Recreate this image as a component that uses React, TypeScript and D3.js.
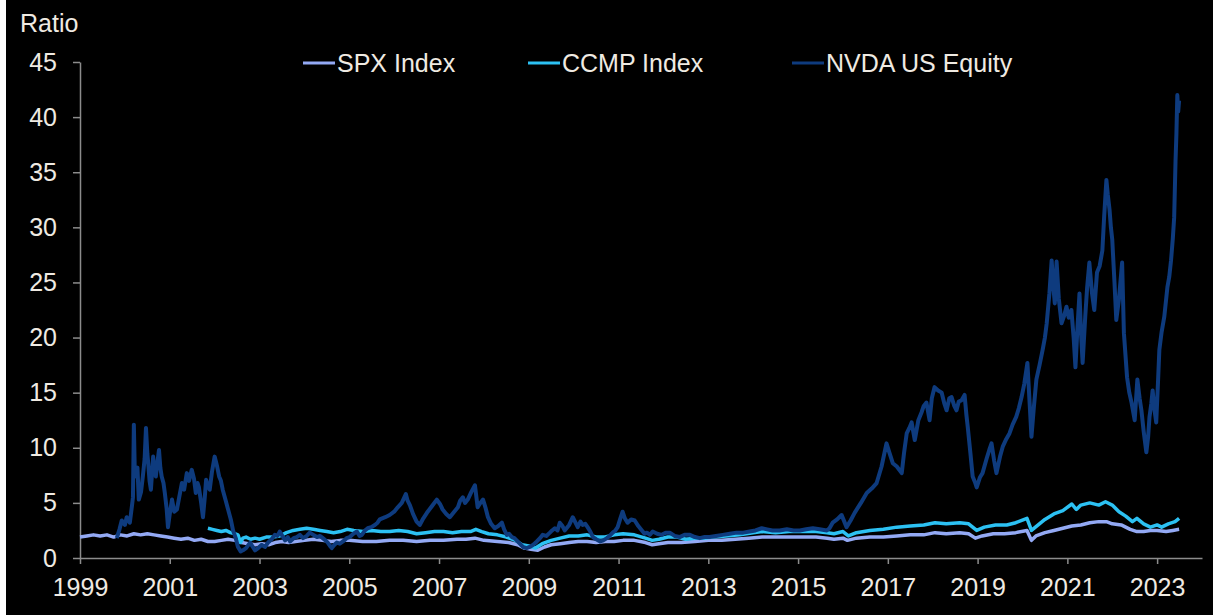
import { useEffect, useRef } from "react";
import * as d3 from "d3";

// [year, ratio]
const spxData: [number, number][] = [
  [1999.0, 1.9], [1999.15, 2.0], [1999.3, 2.1], [1999.45, 2.0], [1999.6, 2.1], [1999.75, 1.9], [1999.9, 2.1],
  [2000.05, 2.0], [2000.2, 2.2], [2000.35, 2.1], [2000.5, 2.2], [2000.65, 2.1], [2000.8, 2.0], [2000.95, 1.9],
  [2001.1, 1.8], [2001.25, 1.7], [2001.4, 1.8], [2001.55, 1.6], [2001.7, 1.7], [2001.85, 1.5], [2002.0, 1.5],
  [2002.15, 1.6], [2002.3, 1.7], [2002.45, 1.6], [2002.6, 1.4], [2002.75, 1.3], [2002.9, 1.2], [2003.05, 1.3],
  [2003.2, 1.2], [2003.35, 1.4], [2003.5, 1.5], [2003.65, 1.4], [2003.8, 1.5], [2004.0, 1.6], [2004.2, 1.7],
  [2004.4, 1.6], [2004.6, 1.5], [2004.8, 1.6], [2005.0, 1.6], [2005.3, 1.5], [2005.6, 1.5], [2005.9, 1.6],
  [2006.2, 1.6], [2006.5, 1.5], [2006.8, 1.6], [2007.1, 1.6], [2007.4, 1.7], [2007.6, 1.7], [2007.8, 1.8],
  [2008.0, 1.6], [2008.3, 1.5], [2008.55, 1.4], [2008.75, 1.2], [2008.9, 0.9], [2009.05, 0.8], [2009.2, 0.7],
  [2009.35, 1.0], [2009.5, 1.2], [2009.7, 1.3], [2009.9, 1.4], [2010.1, 1.5], [2010.3, 1.5], [2010.5, 1.4],
  [2010.7, 1.5], [2010.9, 1.5], [2011.1, 1.6], [2011.35, 1.6], [2011.6, 1.4], [2011.75, 1.2], [2011.9, 1.3],
  [2012.1, 1.4], [2012.4, 1.4], [2012.7, 1.5], [2013.0, 1.6], [2013.3, 1.6], [2013.6, 1.7], [2013.9, 1.8],
  [2014.2, 1.9], [2014.5, 1.9], [2014.8, 1.9], [2015.1, 1.9], [2015.4, 1.9], [2015.65, 1.8], [2015.8, 1.7],
  [2016.0, 1.8], [2016.1, 1.6], [2016.3, 1.8], [2016.6, 1.9], [2016.9, 1.9], [2017.2, 2.0], [2017.5, 2.1],
  [2017.8, 2.1], [2018.05, 2.3], [2018.3, 2.2], [2018.6, 2.3], [2018.8, 2.2], [2018.95, 1.8], [2019.1, 2.0],
  [2019.35, 2.2], [2019.6, 2.2], [2019.85, 2.3], [2020.1, 2.5], [2020.2, 1.6], [2020.3, 2.0], [2020.5, 2.3],
  [2020.7, 2.5], [2020.9, 2.7], [2021.1, 2.9], [2021.3, 3.0], [2021.5, 3.2], [2021.7, 3.3], [2021.87, 3.3],
  [2022.0, 3.1], [2022.2, 3.0], [2022.4, 2.6], [2022.55, 2.4], [2022.7, 2.4], [2022.85, 2.5], [2023.0, 2.5],
  [2023.2, 2.4], [2023.35, 2.5], [2023.49, 2.6],
];

const ccmpData: [number, number][] = [
  [2001.85, 2.7], [2001.95, 2.6], [2002.05, 2.5], [2002.15, 2.4], [2002.25, 2.5], [2002.35, 2.3], [2002.45, 2.2],
  [2002.52, 2.1], [2002.58, 1.4], [2002.63, 1.8], [2002.7, 1.9], [2002.8, 1.7], [2002.9, 1.8], [2003.0, 1.7],
  [2003.15, 1.9], [2003.3, 1.9], [2003.45, 2.0], [2003.6, 2.3], [2003.75, 2.5], [2003.9, 2.6], [2004.05, 2.7],
  [2004.2, 2.6], [2004.35, 2.5], [2004.5, 2.4], [2004.65, 2.3], [2004.8, 2.4], [2004.95, 2.6], [2005.1, 2.5],
  [2005.3, 2.4], [2005.5, 2.5], [2005.7, 2.4], [2005.9, 2.4], [2006.1, 2.5], [2006.3, 2.4], [2006.5, 2.2],
  [2006.7, 2.3], [2006.9, 2.4], [2007.1, 2.4], [2007.3, 2.3], [2007.5, 2.4], [2007.7, 2.4], [2007.82, 2.6],
  [2007.95, 2.4], [2008.1, 2.2], [2008.3, 2.1], [2008.5, 1.9], [2008.7, 1.6], [2008.85, 1.2], [2009.0, 1.1],
  [2009.15, 0.9], [2009.3, 1.3], [2009.5, 1.6], [2009.7, 1.8], [2009.9, 2.0], [2010.1, 2.0], [2010.3, 2.1],
  [2010.5, 1.9], [2010.7, 1.9], [2010.9, 2.1], [2011.1, 2.2], [2011.35, 2.1], [2011.6, 1.8], [2011.75, 1.6],
  [2011.9, 1.7], [2012.1, 1.9], [2012.3, 1.9], [2012.5, 1.7], [2012.7, 1.8], [2012.9, 1.8], [2013.1, 1.9],
  [2013.4, 2.0], [2013.7, 2.1], [2014.0, 2.3], [2014.2, 2.4], [2014.5, 2.3], [2014.8, 2.4], [2015.1, 2.4],
  [2015.4, 2.4], [2015.65, 2.3], [2015.8, 2.2], [2016.0, 2.4], [2016.12, 2.0], [2016.3, 2.3], [2016.6, 2.5],
  [2016.9, 2.6], [2017.2, 2.8], [2017.5, 2.9], [2017.8, 3.0], [2018.05, 3.2], [2018.3, 3.1], [2018.6, 3.2],
  [2018.8, 3.1], [2018.98, 2.5], [2019.15, 2.8], [2019.4, 3.0], [2019.65, 3.0], [2019.85, 3.2], [2020.1, 3.6],
  [2020.2, 2.5], [2020.35, 3.0], [2020.5, 3.5], [2020.7, 4.0], [2020.9, 4.3], [2021.1, 4.9], [2021.2, 4.4],
  [2021.3, 4.8], [2021.5, 5.0], [2021.7, 4.8], [2021.85, 5.1], [2022.0, 4.8], [2022.15, 4.2], [2022.3, 3.8],
  [2022.45, 3.3], [2022.55, 3.6], [2022.7, 3.1], [2022.85, 2.8], [2023.0, 3.0], [2023.1, 2.8], [2023.25, 3.1],
  [2023.4, 3.3], [2023.49, 3.6],
];

const nvdaData: [number, number][] = [
  [1999.82, 1.8], [1999.88, 2.6], [1999.93, 3.4], [2000.0, 3.0], [2000.04, 3.7], [2000.11, 3.2], [2000.16, 4.8],
  [2000.18, 5.5], [2000.2, 12.1], [2000.22, 8.0], [2000.25, 7.4], [2000.28, 8.2], [2000.31, 5.3], [2000.36, 6.0],
  [2000.4, 7.4], [2000.44, 9.0], [2000.47, 11.8], [2000.5, 9.5], [2000.52, 8.6], [2000.55, 7.0], [2000.58, 6.2],
  [2000.61, 8.0], [2000.63, 9.2], [2000.66, 8.0], [2000.69, 7.4], [2000.72, 8.5], [2000.76, 9.8], [2000.79, 8.2],
  [2000.82, 7.4], [2000.86, 6.8], [2000.89, 5.9], [2000.93, 4.5], [2000.96, 2.8], [2001.0, 4.0], [2001.05, 5.3],
  [2001.1, 4.2], [2001.16, 4.4], [2001.21, 5.5], [2001.27, 6.8], [2001.32, 6.2], [2001.38, 7.7], [2001.43, 7.0],
  [2001.49, 8.0], [2001.54, 7.2], [2001.58, 5.9], [2001.62, 6.8], [2001.65, 6.4], [2001.7, 5.0], [2001.74, 3.7],
  [2001.78, 5.5], [2001.81, 7.1], [2001.85, 6.5], [2001.89, 6.2], [2001.94, 7.8], [2002.0, 9.2], [2002.05, 8.4],
  [2002.1, 7.4], [2002.14, 7.0], [2002.18, 6.2], [2002.24, 5.3], [2002.3, 4.4], [2002.36, 3.5], [2002.41, 2.5],
  [2002.47, 1.8], [2002.52, 1.0], [2002.58, 0.6], [2002.63, 0.7], [2002.7, 0.9], [2002.79, 1.4], [2002.85, 1.0],
  [2002.9, 0.7], [2002.97, 0.9], [2003.05, 1.2], [2003.12, 1.0], [2003.19, 1.4], [2003.27, 1.7], [2003.34, 2.1],
  [2003.4, 2.0], [2003.45, 2.4], [2003.51, 2.0], [2003.57, 1.6], [2003.63, 1.9], [2003.68, 1.5], [2003.76, 1.8],
  [2003.83, 1.9], [2003.9, 2.1], [2003.97, 1.8], [2004.05, 2.0], [2004.12, 2.3], [2004.2, 2.1], [2004.28, 1.9],
  [2004.35, 2.0], [2004.41, 1.8], [2004.47, 1.6], [2004.52, 1.4], [2004.57, 1.1], [2004.61, 0.9], [2004.67, 1.2],
  [2004.72, 1.4], [2004.79, 1.3], [2004.86, 1.5], [2004.94, 1.8], [2005.01, 1.9], [2005.09, 2.2], [2005.17, 2.4],
  [2005.23, 2.0], [2005.28, 2.1], [2005.35, 2.5], [2005.41, 2.7], [2005.49, 2.8], [2005.57, 3.0], [2005.63, 3.2],
  [2005.68, 3.5], [2005.8, 3.7], [2005.9, 3.9], [2006.0, 4.2], [2006.08, 4.6], [2006.17, 5.0], [2006.26, 5.8],
  [2006.3, 5.2], [2006.35, 4.8], [2006.42, 4.0], [2006.5, 3.3], [2006.57, 3.0], [2006.65, 3.6], [2006.73, 4.1],
  [2006.84, 4.7], [2006.95, 5.3], [2007.02, 4.9], [2007.08, 4.4], [2007.16, 4.0], [2007.24, 3.7], [2007.32, 4.1],
  [2007.42, 4.6], [2007.47, 5.2], [2007.53, 5.5], [2007.58, 5.0], [2007.64, 5.3], [2007.72, 6.0], [2007.8, 6.6],
  [2007.86, 4.6], [2007.92, 5.0], [2007.98, 5.3], [2008.04, 4.5], [2008.09, 3.7], [2008.16, 3.1], [2008.24, 2.7],
  [2008.32, 2.9], [2008.4, 3.2], [2008.45, 2.6], [2008.51, 2.1], [2008.56, 2.2], [2008.62, 1.9], [2008.68, 1.8],
  [2008.73, 1.6], [2008.8, 1.3], [2008.87, 1.0], [2008.95, 0.9], [2009.02, 1.0], [2009.1, 1.2], [2009.18, 1.5],
  [2009.25, 1.8], [2009.31, 2.1], [2009.39, 2.0], [2009.47, 2.3], [2009.52, 2.5], [2009.58, 2.7], [2009.64, 2.5],
  [2009.69, 3.2], [2009.75, 2.9], [2009.8, 2.5], [2009.9, 3.0], [2009.98, 3.7], [2010.04, 3.2], [2010.09, 2.8],
  [2010.15, 3.3], [2010.2, 3.0], [2010.26, 3.1], [2010.31, 2.8], [2010.37, 2.4], [2010.43, 1.9], [2010.5, 1.7],
  [2010.59, 1.5], [2010.66, 1.6], [2010.74, 1.8], [2010.8, 2.0], [2010.87, 2.3], [2010.93, 2.5], [2010.98, 2.8],
  [2011.04, 3.6], [2011.09, 4.2], [2011.14, 3.6], [2011.2, 3.2], [2011.28, 3.5], [2011.36, 3.4], [2011.44, 2.9],
  [2011.52, 2.5], [2011.58, 2.2], [2011.63, 2.3], [2011.7, 2.1], [2011.76, 2.4], [2011.86, 2.2], [2011.96, 2.1],
  [2012.05, 2.3], [2012.14, 2.3], [2012.25, 2.0], [2012.36, 1.9], [2012.47, 2.1], [2012.59, 2.1], [2012.7, 1.9],
  [2012.81, 1.8], [2012.92, 1.9], [2013.03, 1.9], [2013.17, 2.0], [2013.32, 2.1], [2013.48, 2.2], [2013.63, 2.3],
  [2013.78, 2.3], [2013.92, 2.4], [2014.05, 2.5], [2014.19, 2.7], [2014.31, 2.6], [2014.43, 2.5], [2014.59, 2.5],
  [2014.75, 2.6], [2014.9, 2.5], [2015.04, 2.5], [2015.18, 2.6], [2015.33, 2.7], [2015.48, 2.6], [2015.64, 2.5],
  [2015.7, 2.7], [2015.77, 3.2], [2015.87, 3.5], [2015.97, 3.9], [2016.03, 3.3], [2016.08, 2.8], [2016.17, 3.4],
  [2016.26, 4.1], [2016.4, 5.0], [2016.53, 5.9], [2016.64, 6.3], [2016.75, 6.8], [2016.86, 8.3], [2016.97, 10.4],
  [2017.04, 9.5], [2017.11, 8.6], [2017.2, 8.3], [2017.31, 7.7], [2017.36, 9.5], [2017.42, 11.3], [2017.48, 11.8],
  [2017.53, 12.3], [2017.6, 10.7], [2017.68, 12.5], [2017.75, 13.2], [2017.8, 13.8], [2017.86, 14.1], [2017.93, 12.5],
  [2017.98, 14.5], [2018.04, 15.5], [2018.12, 15.2], [2018.2, 15.0], [2018.26, 14.0], [2018.31, 13.4], [2018.37, 14.5],
  [2018.42, 14.6], [2018.48, 13.8], [2018.53, 13.4], [2018.58, 14.2], [2018.64, 14.3], [2018.71, 14.8], [2018.75, 13.0],
  [2018.78, 11.9], [2018.84, 9.5], [2018.89, 7.4], [2018.94, 6.9], [2018.98, 6.4], [2019.05, 7.3], [2019.11, 7.7],
  [2019.2, 9.0], [2019.26, 9.8], [2019.31, 10.4], [2019.37, 8.8], [2019.42, 7.7], [2019.5, 9.2], [2019.56, 10.1],
  [2019.64, 10.8], [2019.71, 11.3], [2019.78, 12.1], [2019.86, 12.8], [2019.92, 13.6], [2019.98, 14.6], [2020.04, 15.8],
  [2020.11, 17.7], [2020.16, 14.0], [2020.2, 11.0], [2020.25, 13.5], [2020.31, 16.2], [2020.38, 17.5], [2020.45, 18.9],
  [2020.5, 20.0], [2020.54, 21.3], [2020.6, 24.0], [2020.65, 27.0], [2020.69, 24.5], [2020.72, 23.1], [2020.76, 26.9],
  [2020.81, 23.5], [2020.87, 21.3], [2020.93, 22.0], [2020.98, 22.8], [2021.03, 21.8], [2021.09, 22.5], [2021.14, 20.0],
  [2021.18, 17.3], [2021.22, 20.5], [2021.27, 24.0], [2021.31, 20.0], [2021.34, 17.7], [2021.4, 22.0], [2021.44, 24.5],
  [2021.49, 26.8], [2021.55, 24.0], [2021.6, 22.5], [2021.66, 25.9], [2021.72, 26.5], [2021.78, 27.9], [2021.82, 31.0],
  [2021.87, 34.3], [2021.9, 33.0], [2021.94, 31.6], [2021.97, 30.0], [2022.0, 28.9], [2022.05, 25.0], [2022.09, 21.6],
  [2022.15, 23.5], [2022.22, 26.8], [2022.26, 20.4], [2022.33, 16.4], [2022.38, 15.0], [2022.43, 14.1], [2022.5, 12.5],
  [2022.56, 16.2], [2022.61, 14.5], [2022.65, 13.4], [2022.7, 11.5], [2022.76, 9.6], [2022.8, 11.0], [2022.83, 12.8],
  [2022.87, 14.0], [2022.9, 15.2], [2022.94, 13.5], [2022.98, 12.3], [2023.02, 16.0], [2023.05, 18.9], [2023.1, 20.5],
  [2023.16, 21.9], [2023.23, 24.6], [2023.27, 25.5], [2023.31, 27.0], [2023.35, 29.0], [2023.38, 30.9], [2023.41, 36.0],
  [2023.43, 38.5], [2023.45, 42.0], [2023.47, 40.5], [2023.49, 41.5],
];

const xTickYears = [1999, 2001, 2003, 2005, 2007, 2009, 2011, 2013, 2015, 2017, 2019, 2021, 2023];
const yTickValues = [0, 5, 10, 15, 20, 25, 30, 35, 40, 45];

const series = [
  { name: "SPX Index", data: spxData, color: "#93a9f4", legendX: 303, width: 3.5 },
  { name: "CCMP Index", data: ccmpData, color: "#2cc1f3", legendX: 528, width: 3.5 },
  { name: "NVDA US Equity", data: nvdaData, color: "#0e3b7e", legendX: 792, width: 4 },
];

const App = () => {
  const ref = useRef<SVGSVGElement>(null);

  useEffect(() => {
    const width = 1213;
    const height = 615;
    const font = "'Liberation Sans', Arial, sans-serif";
    const fontSize = 25;
    const textColor = "#efeae2";
    const axisColor = "#8c8c8c";

    const svg = d3.select(ref.current).attr("width", width).attr("height", height);
    svg.selectAll("*").remove();

    svg.append("rect").attr("width", width).attr("height", height).attr("fill", "#ffffff");
    svg.append("rect").attr("x", 6).attr("width", width - 6).attr("height", height).attr("fill", "#000000");

    const x = d3.scaleLinear().domain([1999, 2024]).range([80, 1202]);
    const y = d3.scaleLinear().domain([0, 45]).range([558, 62]);

    // X axis
    svg
      .append("g")
      .attr("transform", `translate(0,${y(0)})`)
      .call(
        d3
          .axisBottom(x)
          .tickValues(xTickYears)
          .tickSize(6)
          .tickSizeOuter(0)
          .tickPadding(14)
          .tickFormat(d3.format("d"))
      )
      .call((g) => g.select(".domain").attr("stroke", axisColor).attr("stroke-width", 1.5))
      .call((g) => g.selectAll(".tick line").attr("stroke", axisColor).attr("stroke-width", 1.5))
      .call((g) =>
        g.selectAll(".tick text").attr("fill", textColor).attr("font-size", fontSize).attr("font-family", font)
      );

    // Y axis
    svg
      .append("g")
      .attr("transform", `translate(${x(1999)},0)`)
      .call(d3.axisLeft(y).tickValues(yTickValues).tickSize(7).tickSizeOuter(0).tickPadding(16))
      .call((g) => g.select(".domain").attr("stroke", axisColor).attr("stroke-width", 1.5))
      .call((g) => g.selectAll(".tick line").attr("stroke", axisColor).attr("stroke-width", 1.5))
      .call((g) =>
        g.selectAll(".tick text").attr("fill", textColor).attr("font-size", fontSize).attr("font-family", font)
      );

    svg
      .append("text")
      .attr("x", 20)
      .attr("y", 32)
      .attr("fill", textColor)
      .attr("font-size", fontSize)
      .attr("font-family", font)
      .text("Ratio");

    const line = d3
      .line<[number, number]>()
      .x((d) => x(d[0]))
      .y((d) => y(d[1]))
      .curve(d3.curveLinear);

    series.forEach((s) => {
      svg
        .append("path")
        .attr("d", line(s.data))
        .attr("fill", "none")
        .attr("stroke", s.color)
        .attr("stroke-width", s.width)
        .attr("stroke-linejoin", "round");
    });

    // legend
    const legend = svg.append("g");
    series.forEach((s) => {
      legend
        .append("line")
        .attr("x1", s.legendX)
        .attr("x2", s.legendX + 32)
        .attr("y1", 63)
        .attr("y2", 63)
        .attr("stroke", s.color)
        .attr("stroke-width", 3);
      legend
        .append("text")
        .attr("x", s.legendX + 34)
        .attr("y", 72)
        .attr("fill", textColor)
        .attr("font-size", fontSize)
        .attr("font-family", font)
        .text(s.name);
    });
  }, []);

  return <svg ref={ref} style={{ position: "absolute", left: 0, top: 0, display: "block" }} />;
};

export default App;
